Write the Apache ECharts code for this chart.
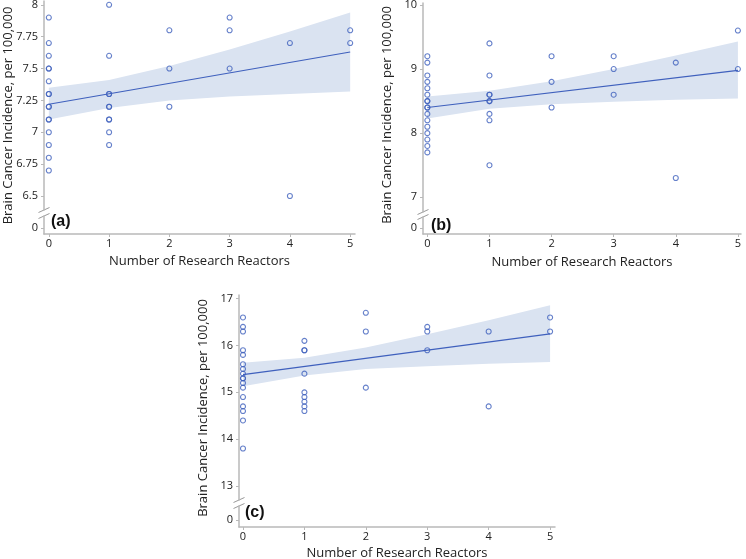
<!DOCTYPE html>
<html><head><meta charset="utf-8">
<script src="https://cdn.jsdelivr.net/npm/echarts@6/dist/echarts.min.js"></script>
<style>html,body{margin:0;padding:0;background:#fff}#c{width:746px;height:559px}</style>
</head><body><div id="c"></div>
<script>
// ---------- data ----------
const xTicks = [0, 1, 2, 3, 4, 5];
const yTicksA = [6.5, 6.75, 7, 7.25, 7.5, 7.75, 8];
const yTicksB = [7, 8, 9, 10];
const yTicksC = [13, 14, 15, 16, 17];
const zeroTick = [0];
const panelLabels = ['(a)', '(b)', '(c)'];
const xName = 'Number of Research Reactors';
const yName = 'Brain Cancer Incidence, per 100,000';

const pointsA = [
  [0,7.9],[0,7.7],[0,7.6],[0,7.5],[0,7.5],[0,7.4],[0,7.3],[0,7.3],[0,7.2],[0,7.2],[0,7.1],[0,7.1],[0,7.0],[0,6.9],[0,6.8],[0,6.7],
  [1,8.0],[1,7.6],[1,7.3],[1,7.3],[1,7.2],[1,7.2],[1,7.1],[1,7.1],[1,7.0],[1,6.9],
  [2,7.8],[2,7.5],[2,7.2],
  [3,7.9],[3,7.8],[3,7.5],
  [4,7.7],[4,6.5],
  [5,7.8],[5,7.7]
];
const pointsB = [
  [0,9.2],[0,9.1],[0,8.9],[0,8.8],[0,8.7],[0,8.6],[0,8.5],[0,8.5],[0,8.4],[0,8.4],[0,8.3],[0,8.2],[0,8.1],[0,8.0],[0,7.9],[0,7.8],[0,7.7],
  [1,9.4],[1,8.9],[1,8.6],[1,8.6],[1,8.5],[1,8.5],[1,8.3],[1,8.2],[1,7.5],
  [2,9.2],[2,8.8],[2,8.4],
  [3,9.2],[3,9.0],[3,8.6],
  [4,9.1],[4,7.3],
  [5,9.6],[5,9.0]
];
const pointsC = [
  [0,16.6],[0,16.4],[0,16.3],[0,15.9],[0,15.8],[0,15.6],[0,15.5],[0,15.4],[0,15.3],[0,15.3],[0,15.2],[0,15.1],[0,14.9],[0,14.7],[0,14.6],[0,14.4],[0,13.8],
  [1,16.1],[1,15.9],[1,15.9],[1,15.4],[1,15.0],[1,14.9],[1,14.8],[1,14.7],[1,14.6],
  [2,16.7],[2,16.3],[2,15.1],
  [3,16.4],[3,16.3],[3,15.9],
  [4,16.3],[4,14.7],
  [5,16.6],[5,16.3]
];

const fitX = [0, 5];
const fitA = [7.22, 7.63];
const fitB = [8.40, 8.98];
const fitC = [15.38, 16.25];

const bandX = [0, 1, 2, 3, 4, 5];
const bandUpperA = [7.35, 7.41, 7.52, 7.65, 7.79, 7.94];
const bandLowerA = [7.10, 7.19, 7.25, 7.28, 7.30, 7.32];
const bandUpperB = [8.57, 8.66, 8.81, 9.00, 9.21, 9.43];
const bandLowerB = [8.23, 8.38, 8.45, 8.49, 8.52, 8.54];
const bandUpperC = [15.63, 15.74, 15.96, 16.24, 16.54, 16.86];
const bandLowerC = [15.13, 15.36, 15.50, 15.56, 15.61, 15.65];

// ---------- layout / style ----------
const BLUE = '#3f60bd';
const BAND = '#dae3f1';
const AXIS = '#b9b9b9';
const TEXT = '#222';
const FONT = '"Open Sans", "Noto Sans", sans-serif';

const panels = [
  { pts: pointsA, fit: fitA, up: bandUpperA, lo: bandLowerA, yTicks: yTicksA,
    upper: {left: 44, top: 1, width: 311, height: 209}, lower: {left: 44, top: 216, width: 311, height: 18},
    xMin: -0.08, xMax: 5.08, yMin: 6.39, yMax: 8.03, namePad: 20, xNameGap: 21, label: [51, 222] },
  { pts: pointsB, fit: fitB, up: bandUpperB, lo: bandLowerB, yTicks: yTicksB,
    upper: {left: 423, top: 3, width: 318, height: 209}, lower: {left: 423, top: 217, width: 318, height: 17},
    xMin: -0.07, xMax: 5.05, yMin: 6.77, yMax: 10.03, namePad: 15, xNameGap: 22, label: [431, 226] },
  { pts: pointsC, fit: fitC, up: bandUpperC, lo: bandLowerC, yTicks: yTicksC,
    upper: {left: 239, top: 295, width: 316, height: 205}, lower: {left: 239, top: 506, width: 316, height: 21},
    xMin: -0.065, xMax: 5.08, yMin: 12.70, yMax: 17.08, namePad: 21, xNameGap: 20, label: [245, 513] }
];

const grids = [], xAxes = [], yAxes = [], series = [], graphics = [];
const axisLine = {show: true, onZero: false, lineStyle: {color: AXIS, width: 1.5}};
const axisTick = {show: true, length: 3, lineStyle: {color: AXIS, width: 1}};
const labelStyle = {color: TEXT, fontSize: 11, fontFamily: FONT};

panels.forEach((p, k) => {
  const gu = k * 2, gl = k * 2 + 1;
  grids.push(Object.assign({outerBoundsMode: 'none'}, p.upper));
  grids.push(Object.assign({outerBoundsMode: 'none'}, p.lower));
  // upper
  xAxes.push({gridIndex: gu, type: 'value', min: p.xMin, max: p.xMax, show: false});
  yAxes.push({gridIndex: gu, type: 'value', min: p.yMin, max: p.yMax,
    axisLine: axisLine, splitLine: {show: false},
    axisTick: Object.assign({customValues: p.yTicks}, axisTick),
    axisLabel: Object.assign({customValues: p.yTicks, margin: 6}, labelStyle),
    name: yName, nameLocation: 'middle', nameGap: 29, nameMoveOverlap: false,
    nameTextStyle: {color: TEXT, fontSize: 13, fontFamily: FONT, padding: [0, p.namePad, 0, 0]}
  });
  // lower
  xAxes.push({gridIndex: gl, type: 'value', min: p.xMin, max: p.xMax,
    axisLine: axisLine, splitLine: {show: false},
    axisTick: Object.assign({customValues: xTicks}, axisTick),
    axisLabel: Object.assign({customValues: xTicks, margin: 4}, labelStyle),
    name: xName, nameLocation: 'middle', nameGap: p.xNameGap, nameMoveOverlap: false,
    nameTextStyle: {color: TEXT, fontSize: 13, fontFamily: FONT}
  });
  yAxes.push({gridIndex: gl, type: 'value', min: -1, max: 2,
    axisLine: axisLine, splitLine: {show: false},
    axisTick: Object.assign({customValues: zeroTick}, axisTick),
    axisLabel: Object.assign({customValues: zeroTick, margin: 6}, labelStyle)
  });

  // confidence band
  series.push({type: 'custom', xAxisIndex: gu, yAxisIndex: gu, silent: true, z: 1,
    data: [[0, p.up[0]]],
    renderItem: function (params, api) {
      const pts = [];
      for (let i = 0; i < bandX.length; i++) pts.push(api.coord([bandX[i], p.up[i]]));
      for (let i = bandX.length - 1; i >= 0; i--) pts.push(api.coord([bandX[i], p.lo[i]]));
      return {type: 'polygon', shape: {points: pts}, style: {fill: BAND}};
    }
  });
  // fit line
  series.push({type: 'line', xAxisIndex: gu, yAxisIndex: gu, z: 2, silent: true,
    showSymbol: false, symbol: 'none',
    data: fitX.map((x, i) => [x, p.fit[i]]),
    lineStyle: {color: BLUE, width: 1.2}
  });
  // points
  series.push({type: 'scatter', xAxisIndex: gu, yAxisIndex: gu, z: 3, silent: true,
    symbol: 'circle', symbolSize: 5,
    data: p.pts,
    itemStyle: {color: 'rgba(0,0,0,0)', borderColor: BLUE, borderWidth: 1.1}
  });

  // break marks on the y axis
  const ax = p.upper.left;
  const yTop = p.upper.top + p.upper.height;
  const yBot = p.lower.top;
  [yTop, yBot].forEach(yy => {
    graphics.push({type: 'line', silent: true,
      shape: {x1: ax - 5.5, y1: yy + 2.5, x2: ax + 5.5, y2: yy - 2.5},
      style: {stroke: '#999', lineWidth: 1}});
  });
  graphics.push({type: 'text', silent: true, x: p.label[0], y: p.label[1],
    style: {text: panelLabels[k], fill: '#111', font: 'bold 16px "Liberation Sans", Arial, sans-serif',
      verticalAlign: 'middle', align: 'left'}});
});

const chart = echarts.init(document.getElementById('c'), null, {renderer: 'canvas'});
chart.setOption({
  animation: false,
  backgroundColor: '#fff',
  grid: grids, xAxis: xAxes, yAxis: yAxes, series: series,
  graphic: graphics
});
</script></body></html>
